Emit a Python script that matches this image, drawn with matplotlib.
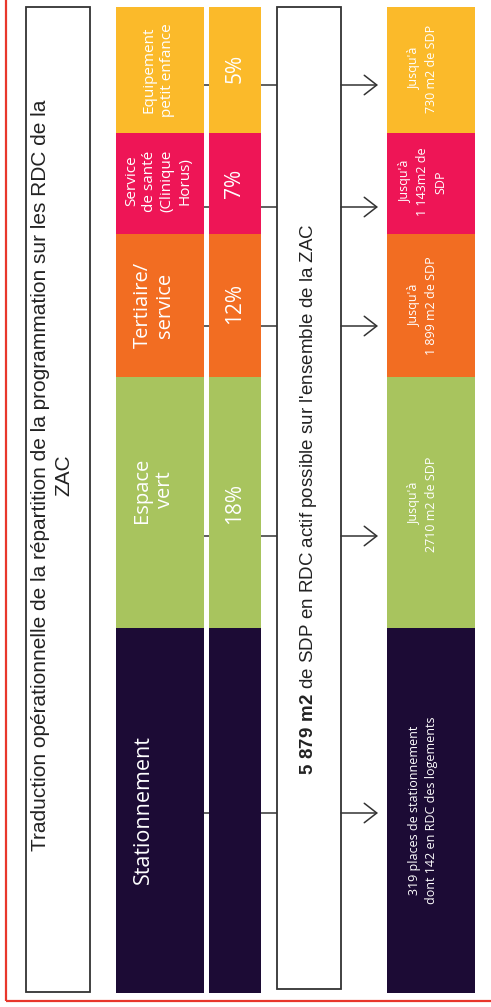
import matplotlib.pyplot as plt
from matplotlib.patches import Rectangle

plt.rcParams['mathtext.fontset'] = 'custom'
plt.rcParams['mathtext.rm'] = 'Liberation Sans'
plt.rcParams['mathtext.bf'] = 'Liberation Sans:bold'

# data (top to bottom in the picture)
categories = ['Equipement\npetit enfance', 'Service\nde santé\n(Clinique\nHorus)',
              'Tertiaire/\nservice', 'Espace\nvert', 'Stationnement']
percentages = ['5%', '7%', '12%', '18%', '']
surfaces = ["Jusqu'à\n730 m2 de SDP", "Jusqu'à\n1 143m2 de\nSDP", "Jusqu'à\n1 899 m2 de SDP",
            "Jusqu'à\n2710 m2 de SDP", "319 places de stationnement\ndont 142 en RDC des logements"]
colors = ['#FBBA2A', '#EE1556', '#F26D22', '#A8C45E', '#1C0B35']
title = ("Traduction opérationnelle de la répartition de la programmation sur les RDC de la\n"
         "ZAC")
total_text = r"$\mathbf{5\ 879\ m2}$ de SDP en RDC actif possible sur l'ensemble de la ZAC"

# layout (pixels)
seg_edges = [7, 133, 234, 377, 628, 993]
arrow_y = [85, 207, 326, 536, 813]
cat_pos = [(158, 70, 11, 1.3), (158, 181, 11, 1.25), (154, 305, 14.5, 1.2),
           (154, 490, 14.5, 1.2), (143, 810, 15.5, 1.2)]
pct_pos = [68, 183, 303, 503, 0]
surf_pos = [69, 182, 306, 504, 810]
line_col = '#333333'

fig = plt.figure(figsize=(4.91, 10.07), dpi=100)
ax = fig.add_axes([0, 0, 1, 1])
ax.set_xlim(0, 491)
ax.set_ylim(1007, 0)
ax.axis('off')

# red frame (left and bottom only)
ax.plot([6, 6], [0, 1001], color='#E8372C', lw=1.6, solid_capstyle='butt')
ax.plot([6, 491], [1001, 1001], color='#E8372C', lw=1.6, solid_capstyle='butt')

# title box
ax.add_patch(Rectangle((26, 7), 64, 985, fill=False, ec=line_col, lw=1.3))
ax.text(52, 475, title, rotation=90, ha='center', va='center', multialignment='center',
        fontsize=15, family='Liberation Sans', color='#222222', linespacing=1.25)

# connector lines behind the bars
for y in arrow_y:
    ax.plot([204, 277], [y, y], color=line_col, lw=1.1, zorder=1)
    ax.annotate('', xy=(378, y), xytext=(341, y),
                arrowprops=dict(arrowstyle='->,head_length=0.45,head_width=0.35',
                                color=line_col, lw=1.1, mutation_scale=20,
                                shrinkA=0, shrinkB=0))

heights = [b - a for a, b in zip(seg_edges[:-1], seg_edges[1:])]
bottoms = seg_edges[:-1]
ax.bar([160] * 5, heights, bottom=bottoms, width=88, color=colors, zorder=2)
ax.bar([235] * 5, heights, bottom=bottoms, width=52, color=colors, zorder=2)
ax.bar([431] * 5, heights, bottom=bottoms, width=88, color=colors, zorder=2)

for lab, (x, y, fs, ls) in zip(categories, cat_pos):
    ax.text(x, y, lab, rotation=90, ha='center', va='center', multialignment='center',
            fontsize=fs, family='Open Sans', color='white', linespacing=ls, zorder=3)
for lab, y in zip(percentages, pct_pos):
    if lab:
        ax.text(235, y, lab, rotation=90, ha='center', va='center',
                fontsize=15, family='Open Sans', color='white', zorder=3)
for lab, y in zip(surfaces, surf_pos):
    ax.text(423, y, lab, rotation=90, ha='center', va='center', multialignment='center',
            fontsize=9, family='Open Sans', color='white', linespacing=1.45, zorder=3)

# central box
ax.add_patch(Rectangle((277, 7), 64, 982, fc='white', ec=line_col, lw=1.3, zorder=2))
ax.text(309, 499, total_text, rotation=90, ha='center', va='center',
        fontsize=13.5, family='Liberation Sans', color='#222222', zorder=3)

fig.savefig('out.png', dpi=100)
